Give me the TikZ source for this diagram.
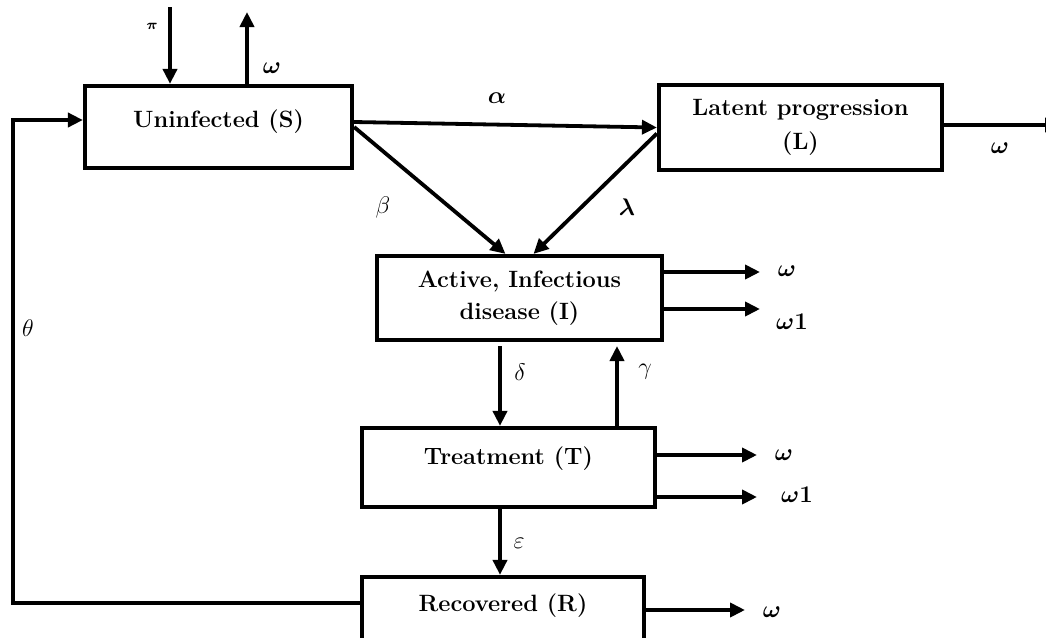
\documentclass[tikz,border=0pt]{standalone}
\usepackage{tikz}
\usepackage{bm}
\usepackage{amsmath}
\usetikzlibrary{arrows.meta}

\tikzset{
    compartment/.style={draw, line width=2.1pt, align=center,
        font=\fontsize{11.8}{14}\selectfont\bfseries},
    flow/.style={->, line width=1.9pt, >={Triangle[length=7.5pt,width=7pt]}},
    rate/.style={font=\fontsize{12}{14}\selectfont}
}

\begin{document}
\begin{tikzpicture}[x=0.5pt, y=-0.5pt]
    \useasboundingbox (0,0) rectangle (1046,638);

        % Compartments
        \node[compartment, minimum width=133.5pt, minimum height=41pt, text height=8pt, text depth=8pt] (S) at (218.5,127) {Uninfected (S)};
        \node[compartment, minimum width=141.5pt, minimum height=42.5pt] (L) at (800.5,127.5) {Latent progression\\[3pt](L)};
        \node[compartment, minimum width=142.5pt, minimum height=42pt] (I) at (519.5,298) {Active, Infectious\\[2pt]disease (I)};
        \node[compartment, minimum width=146.5pt, minimum height=39.5pt, text height=8pt, text depth=11pt] (T) at (508.5,467.5) {Treatment (T)};
        \node[compartment, minimum width=141pt, minimum height=34pt, text height=8pt, text depth=8pt] (R) at (503,611) {Recovered (R)};

        % Free ends
        \coordinate (pin) at (170,7);
        \coordinate (sout) at (247,12);
        \coordinate (lout) at (1060,125);
        \coordinate (iout1) at (760,272);
        \coordinate (iout2) at (760,309);
        \coordinate (dtop) at (500,346);
        \coordinate (gtop) at (617,346);
        \coordinate (tout1) at (757,455);
        \coordinate (tout2) at (757,497);
        \coordinate (rout) at (745,610);
        \coordinate (back) at (13,120);

        % Birth and death of S
        \draw[flow] (pin) -- (pin |- S.north);
        \draw[flow] (sout |- S.north) -- (sout);

        % Transitions
        \draw[flow] ([yshift=2.5pt]S.east) -- (L.west);
        \draw[flow] (S.east) -- ([xshift=-7pt]I.north);
        \draw[flow] ([yshift=-3pt]L.west) -- ([xshift=7pt]I.north);
        \draw[flow] (dtop) -- (dtop |- T.north);
        \draw[flow] (gtop |- T.north) -- (gtop);
        \draw[flow] (T.south -| dtop) -- (R.north -| dtop);
        \draw[flow] ([yshift=4pt]R.west) -| (back) -- (back -| S.west);

        % Outflows
        \draw[flow] (L.east |- lout) -- (lout);
        \draw[flow] (I.east |- iout1) -- (iout1);
        \draw[flow] (I.east |- iout2) -- (iout2);
        \draw[flow] (T.east |- tout1) -- (tout1);
        \draw[flow] (T.east |- tout2) -- (tout2);
        \draw[flow] (R.east |- rout) -- (rout);

        % Rate labels
        \node[font=\scriptsize] (pilbl) at (152,26) {$\bm{\pi}$};
        \node[rate] (wS) at (272,68) {$\bm{\omega}$};
        \node[rate] (alpha) at (497,98) {$\bm{\alpha}$};
        \node[rate] (beta) at (383,207) {$\beta$};
        \node[rate] (lambda) at (627,207) {$\bm{\lambda}$};
        \node[rate] (wL) at (1000,148) {$\bm{\omega}$};
        \node[rate] (wI) at (787,271) {$\bm{\omega}$};
        \node[rate] (wIone) at (792,322) {$\bm{\omega 1}$};
        \node[rate] (delta) at (520,372) {$\delta$};
        \node[rate] (gamma) at (645,372) {$\gamma$};
        \node[rate] (wT) at (784,455) {$\bm{\omega}$};
        \node[rate] (wTone) at (797,495) {$\bm{\omega 1}$};
        \node[rate] (eps) at (519,543) {$\varepsilon$};
        \node[rate] (wR) at (772,612) {$\bm{\omega}$};
        \node[rate] (theta) at (28,328) {$\theta$};

    \end{tikzpicture}
\end{document}
